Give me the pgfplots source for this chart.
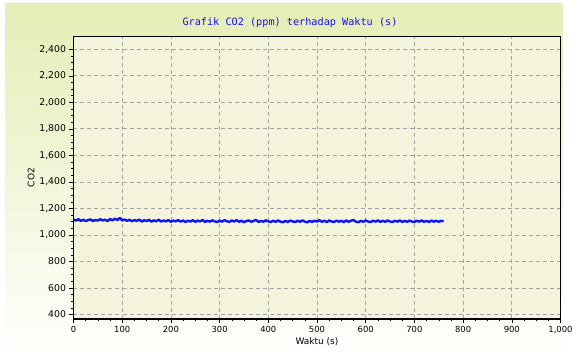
\documentclass[border=0pt]{standalone}
\usepackage{fontspec}
\setmainfont{DejaVu Sans}
\newfontfamily\monofont{DejaVu Sans Mono}
\usepackage{pgfplots}
\pgfplotsset{compat=1.18}
\definecolor{bgtop}{RGB}{230,237,182}
\definecolor{plotbg}{RGB}{245,245,222}
\definecolor{gridc}{RGB}{165,165,165}
\definecolor{titleblue}{RGB}{20,20,230}
\definecolor{lineblue}{RGB}{10,20,245}
\pgfplotstableread{
t v
0 1116
5 1108
10 1118
15 1106
20 1114
25 1104
30 1112
35 1117
40 1105
45 1113
50 1108
55 1119
60 1109
65 1115
70 1104
75 1120
80 1110
85 1123
90 1112
95 1128
100 1109
105 1116
110 1106
115 1114
120 1103
125 1112
130 1105
135 1116
140 1101
145 1111
150 1104
155 1114
160 1100
165 1110
170 1103
175 1115
180 1100
185 1109
190 1102
195 1112
200 1099
205 1108
210 1102
215 1112
220 1100
225 1109
230 1097
235 1107
240 1101
245 1111
250 1099
255 1108
260 1102
265 1113
270 1098
275 1107
280 1100
285 1110
290 1102
295 1097
300 1108
305 1100
310 1111
315 1103
320 1098
325 1109
330 1101
335 1112
340 1099
345 1107
350 1096
355 1105
360 1109
365 1099
370 1106
375 1113
380 1098
385 1105
390 1100
395 1110
400 1102
405 1097
410 1107
415 1099
420 1109
425 1100
430 1096
435 1106
440 1098
445 1108
450 1102
455 1097
460 1107
465 1099
470 1110
475 1100
480 1095
485 1106
490 1098
495 1108
500 1100
505 1111
510 1099
515 1107
520 1097
525 1109
530 1101
535 1098
540 1108
545 1100
550 1106
555 1097
560 1109
565 1099
570 1107
575 1112
580 1100
585 1096
590 1106
595 1099
600 1109
605 1101
610 1097
615 1108
620 1100
625 1110
630 1098
635 1107
640 1099
645 1109
650 1101
655 1097
660 1107
665 1100
670 1110
675 1098
680 1106
685 1099
690 1108
695 1101
700 1097
705 1107
710 1100
715 1109
720 1099
725 1106
730 1098
735 1108
740 1100
745 1107
750 1099
755 1106
760 1103
}\co
\begin{document}
\begin{tikzpicture}[x=1pt,y=1pt]
\useasboundingbox (0,0) rectangle (573,364);
\shade[top color=bgtop,bottom color=white] (5,4) rectangle (563,360);
\node[font=\fontsize{10.2}{12}\monofont, text=titleblue] at (290,341) {Grafik CO2 (ppm) terhadap Waktu (s)};
\begin{axis}[
  at={(73.5pt,45pt)}, anchor=south west,
  scale only axis, width=487pt, height=283pt,
  xmin=0, xmax=1000, ymin=366, ymax=2500,
  xtick={0,100,...,1000}, ytick={400,600,...,2400},
  xtick pos=bottom, ytick pos=left,
  minor x tick num=3, minor y tick num=3,
  tick align=outside,
  major tick length=4pt, minor tick length=2.5pt,
  tick style={black, line width=0.5pt},
  axis background/.style={fill=plotbg},
  axis line style={black, line width=0.8pt},
  grid=major,
  major grid style={gridc, dash pattern=on 4pt off 3pt, line width=0.7pt},
  yticklabel style={font=\fontsize{9.3}{10}\selectfont},
  xticklabel style={font=\fontsize{8.4}{10}\selectfont},
  /pgf/number format/1000 sep={,},
  /pgf/number format/assume math mode=true,
  xlabel={Waktu (s)}, ylabel={CO2},
  xlabel style={font=\fontsize{9}{10}\selectfont, yshift=3pt},
  ylabel style={font=\fontsize{9}{10}\selectfont, yshift=-2pt},
  clip=true,
]
\addplot[lineblue, line width=2.4pt, line join=round] table[x=t, y=v] {\co};
\draw[black, line width=1.6pt] (axis cs:0,2500) -- (axis cs:0,366) -- (axis cs:1000,366);
\end{axis}
\end{tikzpicture}
\end{document}
